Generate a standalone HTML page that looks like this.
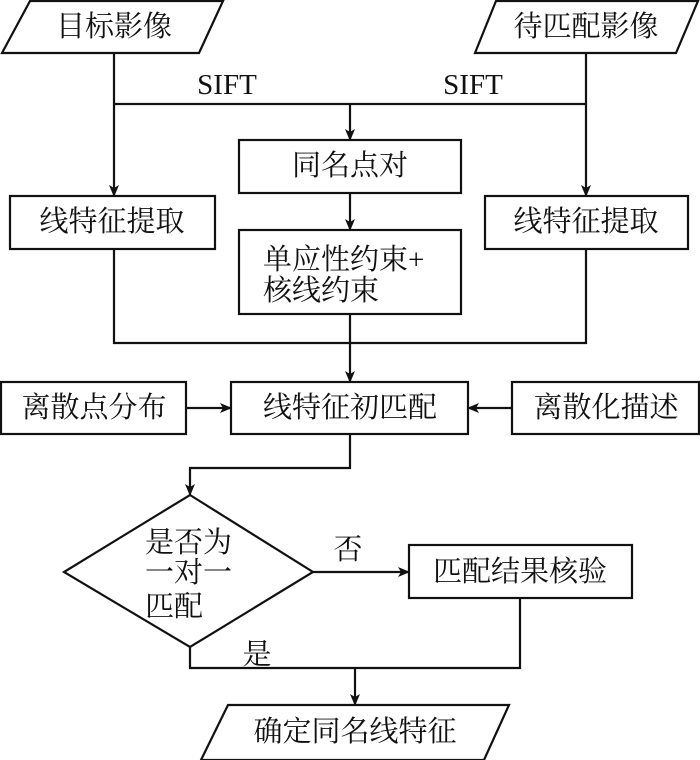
<!DOCTYPE html>
<html><head><meta charset="utf-8"><style>
html,body{margin:0;padding:0;background:#fff;}
svg{display:block;}
text{font-family:"Liberation Serif","Noto Serif CJK SC","Noto Sans CJK SC",serif;font-size:29px;fill:#111;}
.c{text-anchor:middle;dominant-baseline:central;}
.l{dominant-baseline:central;}
</style></head><body>
<svg width="700" height="760" viewBox="0 0 700 760" xmlns="http://www.w3.org/2000/svg">
<defs><marker id="a" markerWidth="12" markerHeight="10" refX="11" refY="5" orient="auto" markerUnits="userSpaceOnUse"><path d="M0,0 L12,5 L0,10 L3,5 Z" fill="#111"/></marker></defs>
<g fill="none" stroke="#111" stroke-width="2.2">
<polygon points="30,1 223,1 199,53 2,53"/>
<polygon points="496,1 698,1 676,53 475,53"/>
<line x1="114" y1="53" x2="114" y2="196" marker-end="url(#a)"/>
<line x1="586" y1="53" x2="586" y2="196" marker-end="url(#a)"/>
<line x1="114" y1="104" x2="586" y2="104"/>
<line x1="350" y1="104" x2="350" y2="140" marker-end="url(#a)"/>
<rect x="239" y="140" width="222" height="53"/>
<line x1="350" y1="193" x2="350" y2="230" marker-end="url(#a)"/>
<rect x="239" y="230" width="222" height="84"/>
<rect x="10" y="196" width="205" height="53"/>
<rect x="485" y="196" width="203" height="53"/>
<polyline points="114,249 114,343 586,343 586,249"/>
<line x1="350" y1="314" x2="350" y2="382" marker-end="url(#a)"/>
<rect x="231" y="382" width="237" height="52"/>
<rect x="1" y="382" width="185" height="52"/>
<rect x="512" y="382" width="187" height="52"/>
<line x1="186" y1="408" x2="231" y2="408" marker-end="url(#a)"/>
<line x1="512" y1="408" x2="468" y2="408" marker-end="url(#a)"/>
<polyline points="350,434 350,468 190,468 190,495" marker-end="url(#a)"/>
<polygon points="190,495 313,572 190,647 64,572"/>
<line x1="313" y1="572" x2="409" y2="572" marker-end="url(#a)"/>
<rect x="409" y="545" width="223" height="53"/>
<polyline points="190,647 190,668 520,668 520,598"/>
<line x1="355" y1="668" x2="355" y2="705" marker-end="url(#a)"/>
<polygon points="228,705 509,705 484,760 201,760"/>
</g>
<text class="c" x="114" y="27">目标影像</text>
<text class="c" x="586" y="27">待匹配影像</text>
<text class="c" x="227" y="85">SIFT</text>
<text class="c" x="473" y="85">SIFT</text>
<text class="c" x="350" y="166">同名点对</text>
<text class="c" x="112" y="222">线特征提取</text>
<text class="c" x="586" y="222">线特征提取</text>
<text class="l" x="263" y="260">单应性约束+</text>
<text class="l" x="263" y="291">核线约束</text>
<text class="c" x="94" y="408">离散点分布</text>
<text class="c" x="350" y="408">线特征初匹配</text>
<text class="c" x="606" y="408">离散化描述</text>
<text class="l" x="145" y="543">是否为</text>
<text class="l" x="145" y="573">一对一</text>
<text class="l" x="145" y="607">匹配</text>
<text class="c" x="348" y="550">否</text>
<text class="c" x="257" y="655">是</text>
<text class="c" x="520" y="572">匹配结果核验</text>
<text class="c" x="355" y="732">确定同名线特征</text>
</svg>
</body></html>
